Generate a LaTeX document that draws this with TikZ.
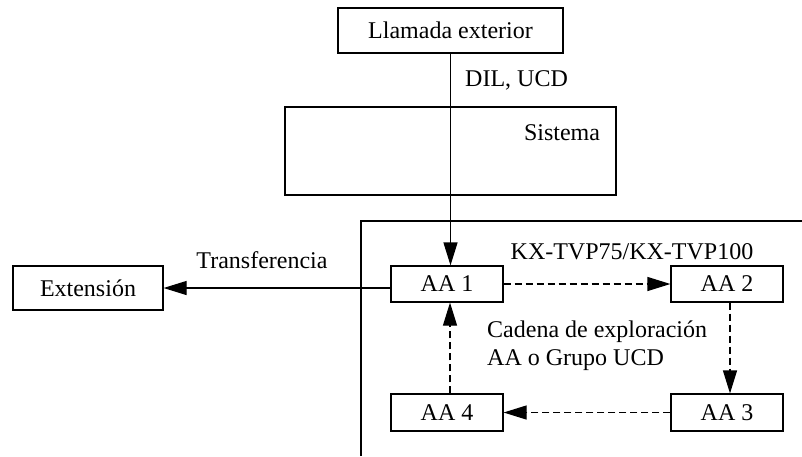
\documentclass[tikz,border=0pt]{standalone}
\usepackage{fontspec}
\setmainfont{Liberation Serif}
\usetikzlibrary{arrows.meta}
\begin{document}
\begin{tikzpicture}[x=1pt,y=-1pt,
  every node/.style={font=\fontsize{24}{28}\selectfont, inner sep=0pt},
  box/.style={draw, line width=1.2pt, minimum width=#1, minimum height=36pt},
  line/.style={line width=1.2pt},
  tip/.style={-{Triangle[length=23pt,width=14pt]}},
  dashline/.style={line width=1.2pt, dash pattern=on 7pt off 4pt},
  lbl/.style={}]
\useasboundingbox (0,0) rectangle (802,456);
% frame lines of the device area
\coordinate (ftop) at (361,456);
\coordinate (fcorner) at (361,221);
\coordinate (fright) at (802,221);
\draw[line] (ftop) -- (fcorner) -- (fright);
% nodes
\node[box=225pt, minimum height=45pt] (llamada) at (450.5,30.5) {Llamada exterior};
\node[box=331pt, minimum height=88pt] (sistema) at (450.5,151) {};
\node[lbl] (sistlbl) at (562,133) {Sistema};
\node[box=150pt, minimum height=44pt] (ext) at (88,288) {Extensión};
\node[box=112pt] (aa1) at (447,284) {AA 1};
\node[box=112pt] (aa2) at (727,284) {AA 2};
\node[box=112pt, minimum height=37pt] (aa3) at (727,412.5) {AA 3};
\node[box=112pt, minimum height=37pt] (aa4) at (447,412.5) {AA 4};
% labels
\node[lbl, anchor=west] (dil) at (465,80) {DIL, UCD};
\node[lbl] (transf) at (262,260) {Transferencia};
\node[lbl] (kx) at (632,252) {KX-TVP75/KX-TVP100};
\node[lbl, anchor=north west, align=left] (cadena) at (487,321) {Cadena de exploración\\AA o Grupo UCD};
% connectors
\draw[line, tip] (llamada.south) -- (llamada.south |- aa1.north);
\draw[line, tip] (aa1.west |- ext.east) -- (ext.east);
\draw[dashline, tip] (aa1.east) -- (aa2.west);
\draw[dashline, tip] ([xshift=3pt]aa2.south) -- ([xshift=3pt]aa3.north);
\draw[dashline, tip] (aa3.west) -- (aa4.east);
\draw[dashline, tip] ([xshift=3pt]aa4.north) -- ([xshift=3pt]aa1.south);
\end{tikzpicture}
\end{document}
